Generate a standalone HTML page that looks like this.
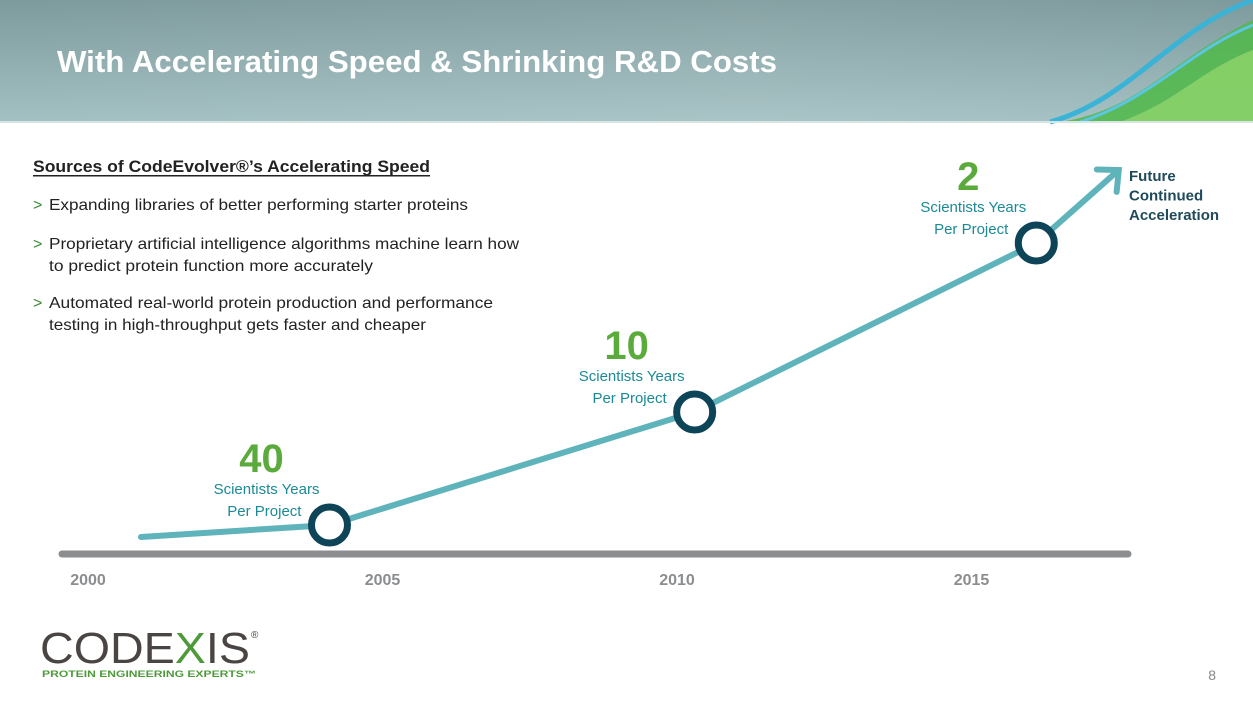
<!DOCTYPE html>
<html><head><meta charset="utf-8"><style>
body{margin:0;width:1253px;height:705px;overflow:hidden;background:#fff;font-family:"Liberation Sans",sans-serif}
</style></head><body>
<svg id="slide" width="1253" height="705" viewBox="0 0 1253 705" xmlns="http://www.w3.org/2000/svg">
<defs>
<linearGradient id="hdr" x1="0" y1="0" x2="0" y2="1"><stop offset="0" stop-color="#7d9a9c"/><stop offset="1" stop-color="#a3c0c2"/></linearGradient>
<linearGradient id="hdr2" x1="0" y1="0" x2="1" y2="0"><stop offset="0" stop-color="#fff" stop-opacity="0"/><stop offset="0.6" stop-color="#fff" stop-opacity="0.08"/><stop offset="1" stop-color="#fff" stop-opacity="0"/></linearGradient>
</defs>
<g>
<rect width="1253" height="122" fill="url(#hdr)"/>
<rect width="1253" height="122" fill="url(#hdr2)"/>
<path d="M1060 122 C1140 110 1170 60 1253 20 L1253 122 Z" fill="#4fb848" opacity="0.85"/>
<path d="M1120 122 C1180 100 1200 70 1253 50 L1253 122 Z" fill="#8fd46a" opacity="0.8"/>
<path d="M1050 122 C1130 100 1170 30 1253 0" stroke="#3ab3d6" stroke-width="5" fill="none"/>
<path d="M1080 122 C1150 100 1190 50 1253 25" stroke="#5cc6e0" stroke-width="3" fill="none"/>
<rect y="121" width="1253" height="2" fill="#d6e4e4"/>
<text x="57" y="72" fill="#fff" font-size="31" font-weight="bold" textLength="720" lengthAdjust="spacingAndGlyphs">With Accelerating Speed &amp; Shrinking R&amp;D Costs</text>
</g>
<g font-size="16" fill="#222">
<text x="33" y="172" font-weight="bold" font-size="17" textLength="397" lengthAdjust="spacingAndGlyphs">Sources of CodeEvolver®’s Accelerating Speed</text>
<rect x="33" y="175" width="397" height="1.5" fill="#222"/>
<text x="33" y="210" fill="#3a8a3a">&gt;</text>
<text x="49" y="210" textLength="419" lengthAdjust="spacingAndGlyphs">Expanding libraries of better performing starter proteins</text>
<text x="33" y="249" fill="#3a8a3a">&gt;</text>
<text x="49" y="249" textLength="470" lengthAdjust="spacingAndGlyphs">Proprietary artificial intelligence algorithms machine learn how</text>
<text x="49" y="271" textLength="324" lengthAdjust="spacingAndGlyphs">to predict protein function more accurately</text>
<text x="33" y="308" fill="#3a8a3a">&gt;</text>
<text x="49" y="308" textLength="444" lengthAdjust="spacingAndGlyphs">Automated real-world protein production and performance</text>
<text x="49" y="330" textLength="377" lengthAdjust="spacingAndGlyphs">testing in high-throughput gets faster and cheaper</text>
</g>
<g id="chart"></g>
<g>
<text x="40" y="663" font-size="44" fill="#4a4542" textLength="210" lengthAdjust="spacingAndGlyphs">CODE<tspan fill="#4e9a3a">X</tspan>IS</text>
<text x="251" y="638" font-size="10" fill="#4a4542">®</text>
<text x="42" y="677" font-size="9" font-weight="bold" fill="#4e9a3a" textLength="214" lengthAdjust="spacingAndGlyphs">PROTEIN ENGINEERING EXPERTS™</text>
</g>
<text x="1216" y="680" font-size="14" fill="#888" text-anchor="end">8</text>
</svg>
<script>
const yearTicks = [2000, 2005, 2010, 2015];
const pathYears = [2000.9, 2004.1, 2010.3, 2016.1, 2017.5];
const pathSpeed = [1.7, 2.9, 14.2, 31.1, 38.4];
const milestoneYears = [2004.1, 2010.3, 2016.1];
const milestoneSpeed = [2.9, 14.2, 31.1];
const milestoneValues = ["40", "10", "2"];

const NS = "http://www.w3.org/2000/svg";
const g = document.getElementById('chart');
const xs = y => 88 + (y - 2000) * 58.9;
const ys = v => 554 - v * 10;
function mk(tag, attrs, parent) {
  const e = document.createElementNS(NS, tag);
  for (const k in attrs) e.setAttribute(k, attrs[k]);
  (parent || g).appendChild(e);
  return e;
}
const axis = mk('line', {x1: 62, y1: 554, x2: 1128, y2: 554, stroke: '#8b8d8f', 'stroke-width': 7, 'stroke-linecap': 'round'});


yearTicks.forEach(yr => {
  const t = mk('text', {x: xs(yr), y: 585, 'font-size': 16, 'font-weight': 'bold', fill: '#8b8d8f', 'text-anchor': 'middle'});
  t.textContent = yr;
  
  
});
const pts = pathYears.map((yr, i) => xs(yr) + ',' + ys(pathSpeed[i])).join(' ');
const line = mk('polyline', {points: pts, fill: 'none', stroke: '#5fb3bb', 'stroke-width': 6, 'stroke-linecap': 'round'});


const n = pathYears.length;
const ex = xs(pathYears[n - 1]), ey = ys(pathSpeed[n - 1]);
const px = xs(pathYears[n - 2]), py = ys(pathSpeed[n - 2]);
const ang = Math.atan2(ey - py, ex - px);
const L = 22;
const a1 = [ex - L * Math.cos(ang - 0.75), ey - L * Math.sin(ang - 0.75)];
const a2 = [ex - L * Math.cos(ang + 0.75), ey - L * Math.sin(ang + 0.75)];
const arrow = mk('polyline', {points: a1.join(',') + ' ' + ex + ',' + ey + ' ' + a2.join(','), fill: 'none', stroke: '#5fb3bb', 'stroke-width': 6, 'stroke-linecap': 'round', 'stroke-linejoin': 'miter'});


const fut = mk('text', {x: 1129, y: 181, 'font-size': 15, 'font-weight': 'bold', fill: '#1f4a5a'});


['Future', 'Continued', 'Acceleration'].forEach((s, i) => {
  const ts = mk('tspan', {x: 1129, dy: i ? 19.5 : 0}, fut);
  ts.textContent = s;
});
milestoneYears.forEach((yr, i) => {
  const cx = xs(yr), cy = ys(milestoneSpeed[i]);
  const c = mk('circle', {cx: cx, cy: cy, r: 18, fill: '#fff', stroke: '#0e4458', 'stroke-width': 7});
  
  
  const lx = cx - 68;
  const v = mk('text', {x: lx, y: cy - 53, 'font-size': 40, 'font-weight': 'bold', fill: '#5aaa3c', 'text-anchor': 'middle'});
  v.textContent = milestoneValues[i];
  
  
  const l1 = mk('text', {x: cx - 10, y: cy - 31, 'font-size': 15, fill: '#1b8a96', 'text-anchor': 'end'});
  l1.textContent = 'Scientists Years';
  
  
  const l2 = mk('text', {x: cx - 28, y: cy - 9, 'font-size': 15, fill: '#1b8a96', 'text-anchor': 'end'});
  l2.textContent = 'Per Project';
  
  
});
</script>
</body></html>
